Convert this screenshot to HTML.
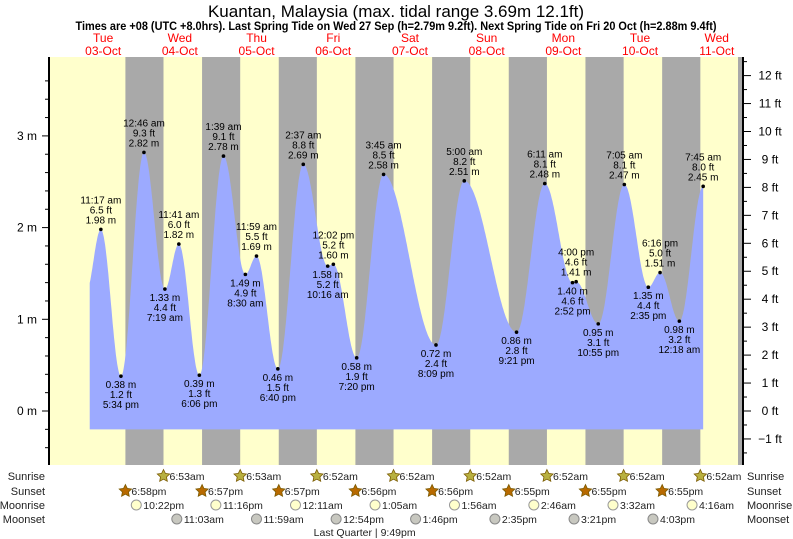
<!DOCTYPE html>
<html><head><meta charset="utf-8"><style>
body{margin:0;background:#fff;}
svg{display:block;font-family:"Liberation Sans",sans-serif;}
</style></head><body>
<svg id="chart" width="793" height="539" viewBox="0 0 793 539" xmlns="http://www.w3.org/2000/svg">
<text x="396" y="17" text-anchor="middle" font-size="17">Kuantan, Malaysia (max. tidal range 3.69m 12.1ft)</text>
<text x="396" y="30" text-anchor="middle" font-size="11.5" font-weight="bold" textLength="641" lengthAdjust="spacingAndGlyphs">Times are +08 (UTC +8.0hrs). Last Spring Tide on Wed 27 Sep (h=2.79m 9.2ft). Next Spring Tide on Fri 20 Oct (h=2.88m 9.4ft)</text>
<g id="bands"></g><g id="tide"></g><g id="axes"></g><g id="labels"></g><g id="astro"></g>
</svg>
<script>
const dayNames=["Tue","Wed","Thu","Fri","Sat","Sun","Mon","Tue","Wed"];
const dayDates=["03-Oct","04-Oct","05-Oct","06-Oct","07-Oct","08-Oct","09-Oct","10-Oct","11-Oct"];
// tide extremes: day index, time, metres
const tideDays=[0,0,0,1,1,1,1,2,2,2,2,3,3,3,3,4,4,5,5,6,6,6,6,7,7,7,8,8];
const tideTimes=["6:40 am","11:17 am","5:34 pm","12:46 am","7:19 am","11:41 am","6:06 pm","1:39 am","8:30 am","11:59 am","6:40 pm","2:37 am","10:16 am","12:02 pm","7:20 pm","3:45 am","8:09 pm","5:00 am","9:21 pm","6:11 am","2:52 pm","4:00 pm","10:55 pm","7:05 am","2:35 pm","6:16 pm","12:18 am","7:45 am"];
const tideHeights=[1.30,1.98,0.38,2.82,1.33,1.82,0.39,2.78,1.49,1.69,0.46,2.69,1.58,1.60,0.58,2.58,0.72,2.51,0.86,2.48,1.40,1.41,0.95,2.47,1.35,1.51,0.98,2.45];
const sunriseTimes=["","6:53am","6:53am","6:52am","6:52am","6:52am","6:52am","6:52am","6:52am"];
const sunsetTimes=["6:58pm","6:57pm","6:57pm","6:56pm","6:56pm","6:55pm","6:55pm","6:55pm",""];
const moonriseDays=[0,1,3,4,5,6,7,8];
const moonriseTimes=["10:22pm","11:16pm","12:11am","1:05am","1:56am","2:46am","3:32am","4:16am"];
const moonsetDays=[1,2,3,4,5,6,7];
const moonsetTimes=["11:03am","11:59am","12:54pm","1:46pm","2:35pm","3:21pm","4:03pm"];
const mTicks=[0,1,2,3];
const ftTicks=[-1,0,1,2,3,4,5,6,7,8,9,10,11,12];

const NS="http://www.w3.org/2000/svg";
const X0=64.8,DAY=76.7,PH=DAY/24,XL=49,XR=738;
function hrs(t){const m=t.match(/(\d+):(\d+)\s*(am|pm)/);let h=+m[1]%12;if(m[3]=="pm")h+=12;return h+(+m[2])/60;}
function xs(d,h){return X0+d*DAY+h*PH;}
function ym(m){return 411-m*91.7;}
function yft(f){return 411-f*0.3048*91.7;}
function mk(tag,attrs,parent,text){const e=document.createElementNS(NS,tag);for(const k in attrs)e.setAttribute(k,attrs[k]);if(text!==undefined)e.textContent=text;document.getElementById(parent).appendChild(e);return e;}

let r=mk('rect',{x:XL,y:57,width:XR-XL,height:408,fill:'#ffffcc'},'bands');


for(let d=0;d<8;d++){
  const x1=xs(d,hrs(sunsetTimes[d])),x2=xs(d+1,hrs(sunriseTimes[d+1]));
  const n=mk('rect',{x:x1,y:57,width:x2-x1,height:408,fill:'#a9a9a9'},'bands');
  
  
}
let g=mk('rect',{x:XR,y:57,width:4,height:408,fill:'#a9a9a9'},'bands');



for(let d=0;d<9;d++){
  const x=xs(d,12);
  const t1=mk('text',{x:x,y:42,'text-anchor':'middle','font-size':12,fill:'#ff0000'},'labels',dayNames[d]);
  
  
  const t2=mk('text',{x:x,y:55,'text-anchor':'middle','font-size':12,fill:'#ff0000'},'labels',dayDates[d]);
  
  
}

const ev=tideTimes.map((t,i)=>({t:tideDays[i]*24+hrs(t),h:tideHeights[i]}));
const tStart=7.8,tEnd=ev[ev.length-1].t;
let pts=[];
for(let t=tStart;t<=tEnd+0.001;t+=0.2){
  let k=0;while(k<ev.length-2&&ev[k+1].t<t)k++;
  const a=ev[k],b=ev[k+1];const f=(t-a.t)/(b.t-a.t);
  const h=a.h+(b.h-a.h)*(1-Math.cos(Math.PI*f))/2;
  pts.push([xs(0,t),ym(h)]);
}
pts.push([xs(0,tEnd),ym(ev[ev.length-1].h)]);
const yb=ym(-0.2);
let dstr='M'+xs(0,tStart)+','+yb+' '+pts.map(p=>'L'+p[0].toFixed(1)+','+p[1].toFixed(1)).join(' ')+' L'+xs(0,tEnd)+','+yb+'Z';
const area=mk('path',{d:dstr,fill:'#9caaff'},'tide');



for(let i=1;i<ev.length;i++){
  const x=xs(0,ev[i].t),y=ym(ev[i].h);
  const prev=ev[i-1].h;
  const high=ev[i].h>prev;
  const dot=mk('circle',{cx:x,cy:y,r:1.8,fill:'#000'},'labels');
  
  
  const ft=(ev[i].h*3.28084).toFixed(1)+' ft',m=ev[i].h.toFixed(2)+' m';
  const lines=high?[tideTimes[i],ft,m]:[m,ft,tideTimes[i]];
  const base=high?y-26:y+12;
  lines.forEach((s,j)=>{
    const t=mk('text',{x:x,y:base+j*10,'text-anchor':'middle','font-size':10},'labels',s);
    
    
  });
}

let la=mk('line',{x1:49,y1:57,x2:49,y2:465,stroke:'#000','stroke-width':2},'axes');


let ra=mk('line',{x1:743,y1:57,x2:743,y2:465,stroke:'#000','stroke-width':2},'axes');


for(let v=-0.6;v<=3.8;v+=0.2){
  const y=ym(v);if(y<57||y>465)continue;
  const major=Math.abs(v-Math.round(v))<0.01;
  const tk=mk('line',{x1:major?42:45,y1:y,x2:49,y2:y,stroke:'#000'},'axes');
  
  
}
mTicks.forEach(v=>{
  const t=mk('text',{x:37,y:ym(v)+4,'text-anchor':'end','font-size':12},'axes',v+' m');
  
  
});
for(let v=-1.5;v<=12.6;v+=0.5){
  const y=yft(v);if(y<57||y>465)continue;
  const major=Math.abs(v-Math.round(v))<0.01;
  const tk=mk('line',{x1:743,y1:y,x2:major?751:747,y2:y,stroke:'#000'},'axes');
  
  
}
ftTicks.forEach(v=>{
  const t=mk('text',{x:770,y:yft(v)+4,'text-anchor':'middle','font-size':12},'axes',(v<0?'\u2212'+(-v):v)+' ft');
  
  
});

const rows=[['Sunrise',476],['Sunset',491],['Moonrise',505],['Moonset',519]];
rows.forEach(rw=>{
  const a=mk('text',{x:45,y:rw[1]+4,'text-anchor':'end','font-size':11,fill:'#222'},'astro',rw[0]);
  
  
  const b=mk('text',{x:747,y:rw[1]+4,'font-size':11,fill:'#222'},'astro',rw[0]);
  
  
});
function star(x,y,fill,name){
  let p='';for(let i=0;i<10;i++){const a=-Math.PI/2+i*Math.PI/5,rr=i%2?3.2:6.5;p+=(x+rr*Math.cos(a)).toFixed(1)+','+(y+rr*Math.sin(a)).toFixed(1)+' ';}
  const s=mk('polygon',{points:p,fill:fill,stroke:'#7a5a00','stroke-width':0.8},'astro');
  
  
}
function label(x,y,s,name){
  const t=mk('text',{x:x,y:y+4,'font-size':10.5,fill:'#222'},'astro',s);
  
  
}
for(let d=1;d<9;d++){const x=xs(d,hrs(sunriseTimes[d]));star(x,476,'#b8b040','sunrise-icon');label(x+6,476,sunriseTimes[d],'sunrise-time');}
for(let d=0;d<8;d++){const x=xs(d,hrs(sunsetTimes[d]));star(x,491,'#b86a00','sunset-icon');label(x+6,491,sunsetTimes[d],'sunset-time');}
moonriseTimes.forEach((t,i)=>{const x=xs(moonriseDays[i],hrs(t));const c=mk('circle',{cx:x,cy:505,r:5,fill:'#ffffcc',stroke:'#999'},'astro');label(x+7,505,t,'moonrise-time');});
moonsetTimes.forEach((t,i)=>{const x=xs(moonsetDays[i],hrs(t));const c=mk('circle',{cx:x,cy:519,r:5,fill:'#c8c8c0',stroke:'#888'},'astro');label(x+7,519,t,'moonset-time');});
const lq=mk('text',{x:xs(3,hrs('9:49 pm')),y:536,'text-anchor':'middle','font-size':10.5,fill:'#222'},'astro','Last Quarter | 9:49pm');


</script>
</body></html>
